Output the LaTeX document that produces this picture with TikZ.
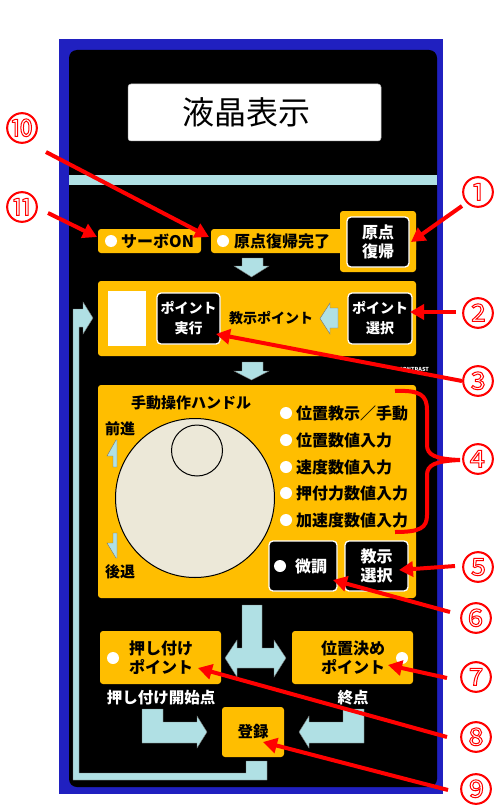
\documentclass[tikz,border=0pt]{standalone}
\usepackage{fontspec}
\setmainfont{Noto Sans CJK JP}
\usetikzlibrary{arrows.meta}
\definecolor{panelblue}{RGB}{32,32,192}
\definecolor{ylw}{RGB}{255,190,0}
\definecolor{cyn}{RGB}{176,224,228}
\definecolor{beige}{RGB}{236,232,216}
\tikzset{
 ybox/.style={fill=ylw, rounded corners=3pt, inner sep=0},
 btn/.style={fill=black, draw=white, line width=1.3pt, rounded corners=4pt, text=white, align=center, inner sep=0, font=\fontsize{16}{19}\selectfont\bfseries},
 lamp/.style={circle, fill=white, minimum size=12pt, inner sep=0},
 lbl/.style={inner sep=0, font=\fontsize{16}{16}\selectfont\bfseries},
 wlbl/.style={inner sep=0, text=white, font=\fontsize{15.5}{15.5}\selectfont\bfseries},
 cyanshape/.style={fill=cyn, draw=black!55, line width=0.4pt},
 redarrow/.style={draw=red, line width=4pt, -{Triangle[length=14pt,width=15pt]}},
 num/.style={text=red, font=\fontsize{33}{33}\selectfont, inner sep=0},
}
\newcommand\strokedtext[1]{\special{pdf:literal direct 1 Tr 1.0 w}#1\special{pdf:literal direct 0 Tr}}
\begin{document}
\begin{tikzpicture}[x=1pt,y=-1pt]
\useasboundingbox (0,0) rectangle (494,805);
\fill[white] (0,0) rectangle (494,805);
% panel
\fill[panelblue] (59,39) rectangle (443,794);
\fill[black, rounded corners=8pt] (69,50) rectangle (437,787);
\node[fill=white, rounded corners=3pt, draw=gray!60, line width=0.5pt, minimum width=253pt, minimum height=57pt, inner sep=0] (lcd) at (254.5,112.5) {};
\node[inner sep=0, font=\fontsize{32}{32}\selectfont] (lcdtxt) at (246,112) {液晶表示};
\fill[cyn] (69,175) rectangle (437,185);

% row 1
\node[ybox, minimum width=103pt, minimum height=24pt] (servo) at (149.5,241) {};
\node[lamp] (servolamp) at (111,241) {};
\node[lbl, anchor=west] (servotxt) at (121,241) {サーボON};
\node[ybox, minimum width=205pt, minimum height=24pt] (homestrip) at (313.5,241) {};
\node[ybox, minimum width=76pt, minimum height=61pt] (homebox) at (378,241.5) {};
\node[lamp] (homelamp) at (223,241) {};
\node[lbl, anchor=west] (hometxt) at (234,241) {原点復帰完了};
\node[btn, minimum width=62pt, minimum height=50pt] (homebtn) at (378,242) {原点\\復帰};
\path[cyanshape] (242,258) -- (263,258) -- (263,266) -- (269,266) -- (251.5,277) -- (234,266) -- (242,266) -- cycle;

% row 2
\node[ybox, minimum width=318pt, minimum height=75pt] (teachbox) at (257,318.5) {};
\node[fill=white, minimum width=38pt, minimum height=55pt, inner sep=0] (whiterect) at (127,318.5) {};
\node[btn, font=\fontsize{14}{20}\selectfont\bfseries, minimum width=63pt, minimum height=51pt] (execbtn) at (188.5,318.5) {ポイント\\実行};
\node[lbl, font=\fontsize{14}{14}\selectfont\bfseries] (teachtxt) at (271,318) {教示ポイント};
\path[cyanshape] (338,308) -- (330,308) -- (330,303) -- (320,318.5) -- (330,334) -- (330,328) -- (338,328) -- cycle;
\node[btn, font=\fontsize{14}{20}\selectfont\bfseries, minimum width=64pt, minimum height=51pt] (selbtn) at (380,318.5) {ポイント\\選択};
\path[cyanshape] (242,362) -- (263,362) -- (263,371) -- (269,371) -- (251.5,380) -- (234,371) -- (242,371) -- cycle;
\node[text=white, font=\fontsize{5.5}{5.5}\selectfont\bfseries, inner sep=0] (contrast) at (414,369) {CONTRAST};

% row 3
\node[ybox, minimum width=318pt, minimum height=213pt] (handlebox) at (257,491.5) {};
\node[lbl, font=\fontsize{15}{15}\selectfont\bfseries] (handletitle) at (191,403) {手動操作ハンドル};
\node[lbl, font=\fontsize{15}{15}\selectfont\bfseries] (fwd) at (120,429) {前進};
\node[lbl, font=\fontsize{15}{15}\selectfont\bfseries] (bwd) at (120,572) {後退};
\path[cyanshape] (116,440) -- (117,440) -- (117,467) -- (113,467) -- (113,456) -- (107,456) -- cycle;
\path[cyanshape] (113,533) -- (117,533) -- (117,558) -- (116,558) -- (107,543) -- (113,543) -- cycle;
\node[circle, draw=black, line width=1pt, fill=beige, minimum size=159pt, inner sep=0] (dial) at (195,498) {};
\node[circle, draw=black, line width=1pt, fill=beige, minimum size=51pt, inner sep=0] (knob) at (197,450.5) {};
\node[lamp] (m1) at (286,413) {};
\node[lbl, anchor=west] (m1t) at (296,413) {位置教示／手動};
\node[lamp] (m2) at (286,440) {};
\node[lbl, anchor=west] (m2t) at (296,440) {位置数値入力};
\node[lamp] (m3) at (286,467) {};
\node[lbl, anchor=west] (m3t) at (296,467) {速度数値入力};
\node[lamp] (m4) at (286,493) {};
\node[lbl, anchor=west] (m4t) at (296,493) {押付力数値入力};
\node[lamp] (m5) at (286,520) {};
\node[lbl, anchor=west] (m5t) at (296,520) {加速度数値入力};
\node[btn, minimum width=68pt, minimum height=50pt] (finebtn) at (303,566) {};
\node[lamp] (finelamp) at (280,566) {};
\node[lbl, text=white] (finetxt) at (311,566) {微調};
\node[btn, minimum width=63pt, minimum height=50pt] (modebtn) at (376.5,566) {教示\\選択};

% bottom
\path[cyanshape] (242,605) -- (262,605) -- (262,648) -- (274,648) -- (274,640) -- (286,658) -- (274,677) -- (274,668) -- (237,668) -- (237,677) -- (225,658) -- (237,640) -- (237,648) -- (242,648) -- cycle;
\node[ybox, minimum width=121pt, minimum height=53pt] (pushbox) at (160.5,657.5) {};
\node[lamp] (pushlamp) at (113,658) {};
\node[lbl, align=center, font=\fontsize{16}{19}\selectfont\bfseries] (pushtxt) at (161,658) {押し付け\\ポイント};
\node[ybox, minimum width=121pt, minimum height=53pt] (posbox) at (352.5,657.5) {};
\node[lamp] (poslamp) at (402,658) {};
\node[lbl, align=center, font=\fontsize{16}{19}\selectfont\bfseries] (postxt) at (353,658) {位置決め\\ポイント};
\node[wlbl] (pushstart) at (161,698) {押し付け開始点};
\node[wlbl] (endpt) at (353,698) {終点};
\node[ybox, minimum width=62pt, minimum height=50pt] (regbox) at (253,732) {};
\node[lbl, font=\fontsize{15.5}{15.5}\selectfont\bfseries] (regtxt) at (253,732) {登録};
\path[cyanshape] (142,709) -- (163,709) -- (163,722) -- (197,722) -- (197,716) -- (207,732) -- (197,748) -- (197,743) -- (142,743) -- cycle;
\path[cyanshape] (364,709) -- (343,709) -- (343,722) -- (309,722) -- (309,716) -- (299,732) -- (309,748) -- (309,743) -- (364,743) -- cycle;
\path[cyanshape] (246,761) -- (267,761) -- (267,780) -- (73,780) -- (73,309) -- (83,309) -- (83,302) -- (93,318) -- (83,334) -- (83,327) -- (79,327) -- (79,773) -- (246,773) -- cycle;

% callout numbers
\node[num] (n1) at (478,192) {\strokedtext{①}};
\node[num] (n2) at (478,313) {\strokedtext{②}};
\node[num] (n3) at (478,381) {\strokedtext{③}};
\node[num] (n4) at (478,459) {\strokedtext{④}};
\node[num] (n5) at (478,567) {\strokedtext{⑤}};
\node[num] (n6) at (476,618) {\strokedtext{⑥}};
\node[num] (n7) at (476,677) {\strokedtext{⑦}};
\node[num] (n8) at (476,737) {\strokedtext{⑧}};
\node[num] (n9) at (476,789) {\strokedtext{⑨}};
\node[num] (n10) at (22,128) {\strokedtext{⑩}};
\node[num] (n11) at (22,207) {\strokedtext{⑪}};

\coordinate (s1) at (462,206); \coordinate (t1) at (411,242);
\coordinate (s2) at (456,312); \coordinate (t2) at (410,312);
\coordinate (s3) at (462,381); \coordinate (t3) at (216,334);
\coordinate (s5) at (455,566); \coordinate (t5) at (399,570);
\coordinate (s6) at (450,612); \coordinate (t6) at (333,580);
\coordinate (s7) at (447,678); \coordinate (t7) at (388,665);
\coordinate (s8) at (447,737); \coordinate (t8) at (198,668);
\coordinate (s9) at (448,790); \coordinate (t9) at (263,742);
\coordinate (s10) at (46,152); \coordinate (t10) at (209,237);
\coordinate (s11) at (48,213); \coordinate (t11) at (97,237);
\foreach \i in {1,2,3,5,6,7,8,9,10,11} {\draw[redarrow] (s\i) -- (t\i);}
% brace for 4
\coordinate (b1) at (395,391); \coordinate (b2) at (460,460); \coordinate (b3) at (395,532);
\draw[red, line width=4pt] (b1) .. controls (420,390) and (427,395) .. (427,410) -- (427,445) .. controls (427,455) and (435,459) .. (b2) .. controls (435,461) and (427,465) .. (427,475) -- (427,515) .. controls (427,528) and (420,532) .. (b3);
\end{tikzpicture}
\end{document}
